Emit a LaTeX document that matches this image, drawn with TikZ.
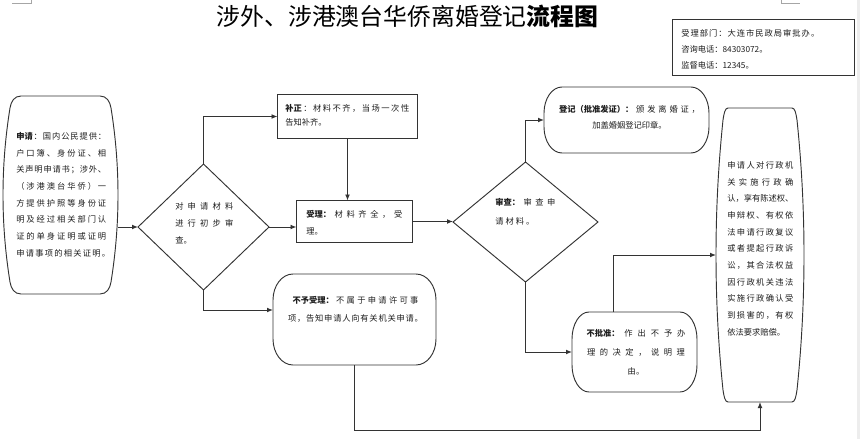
\documentclass[tikz,border=0pt]{standalone}
\usepackage{fontspec}
\setmainfont{Noto Sans CJK SC}
\usetikzlibrary{arrows.meta,shapes.geometric,calc}
\definecolor{lnc}{HTML}{333333}
\definecolor{txc}{HTML}{1E1E1E}
\newdimen\pxu \pxu=0.75pt
\def\jlend{JLEND}
\def\jlloop#1{#1\jlnext}
\def\jlnext#1{\ifx#1\jlend\else\hfil#1\expandafter\jlnext\fi}
\newcommand\jl[2]{\makebox[#1\pxu][s]{\jlloop#2\jlend}}
\newcommand\jlb[3]{\makebox[#1\pxu][s]{\textbf{#2}\jlnext#3\jlend}}
\newcommand\fs[1]{\fontsize{6.2}{#1}\selectfont}
% elliptical-corner rounded rectangle: x1 y1 x2 y2 rx ry
\newcommand\erect[6]{%
 \draw[shp] ({#1+#5},#2) -- ({#3-#5},#2)
  .. controls ({#3-#5+0.552*#5},#2) and (#3,{#2+#6-0.552*#6}) .. (#3,{#2+#6})
  -- (#3,{#4-#6})
  .. controls (#3,{#4-#6+0.552*#6}) and ({#3-#5+0.552*#5},#4) .. ({#3-#5},#4)
  -- ({#1+#5},#4)
  .. controls ({#1+#5-0.552*#5},#4) and (#1,{#4-#6+0.552*#6}) .. (#1,{#4-#6})
  -- (#1,{#2+#6})
  .. controls (#1,{#2+#6-0.552*#6}) and ({#1+#5-0.552*#5},#2) .. ({#1+#5},#2) -- cycle;}
% bulging-side box: x1 y1 x2 y2 a e d
\newcommand\bulge[7]{%
 \draw[shp] ({#1+#5},#2) -- ({#3-#5},#2)
  .. controls ({#3-#5+0.6*(#5-#6)},#2) and ({#3-#6-1},{#2+0.45*#7}) .. ({#3-#6},{#2+#7})
  .. controls ({#3+#6/3},{#2+#7+(#4-#2-2*#7)/3}) and ({#3+#6/3},{#4-#7-(#4-#2-2*#7)/3}) .. ({#3-#6},{#4-#7})
  .. controls ({#3-#6-1},{#4-0.45*#7}) and ({#3-#5+0.6*(#5-#6)},#4) .. ({#3-#5},#4)
  -- ({#1+#5},#4)
  .. controls ({#1+#5-0.6*(#5-#6)},#4) and ({#1+#6+1},{#4-0.45*#7}) .. ({#1+#6},{#4-#7})
  .. controls ({#1-#6/3},{#4-#7-(#4-#2-2*#7)/3}) and ({#1-#6/3},{#2+#7+(#4-#2-2*#7)/3}) .. ({#1+#6},{#2+#7})
  .. controls ({#1+#6+1},{#2+0.45*#7}) and ({#1+#5-0.6*(#5-#6)},#2) .. ({#1+#5},#2) -- cycle;}
\begin{document}
\begin{tikzpicture}[x=0.75pt,y=-0.75pt,
  shp/.style={draw=lnc,line width=0.7pt},
  box/.style={draw=lnc,line width=0.7pt,inner sep=0,outer sep=0},
  anc/.style={inner sep=0,outer sep=0,draw=none},
  dia/.style={diamond,draw=lnc,line width=0.7pt,inner sep=0,outer sep=0},
  arr/.style={draw=lnc,line width=0.7pt,-{Latex[length=4.5pt,width=3.6pt]}},
  txt/.style={inner sep=0,align=left,anchor=base west,text=txc},
  txtc/.style={inner sep=0,align=center,anchor=base,text=txc}]
\useasboundingbox (0,0) rectangle (860,439);
\fill[white] (0,0) rectangle (860,439);
\fill[black!7] (857,0) rectangle (860,439);
\draw[black!35,line width=0.5pt] (12,3) -- (31,3) -- (31,0);
\draw[black!35,line width=0.5pt] (781,0) -- (781,3) -- (800,3);

% title
\node[inner sep=0,anchor=base,text=black,font=\fontsize{17.9}{20}\selectfont] (title) at (407.5,25)
  {涉外、涉港澳台华侨离婚登记\textbf{流程图}};

% info box
\node[box,minimum width={182*0.75pt},minimum height={56*0.75pt}] (info) at (763.5,47.5) {};
\node[txt,font=\fs{12}] (infot) at (681,68)
  {\jl{138}{受理部门：大连市民政局审批办。}\\ 咨询电话：84303072。\\ 监督电话：12345。};

% shapes
\node[anc,minimum width={115*0.75pt},minimum height={198*0.75pt}] (apply) at (60.5,195) {};
\bulge{3}{96}{118}{294}{18}{7}{12}
\node[dia,minimum width={131*0.75pt},minimum height={126*0.75pt}] (d1) at (203.5,227) {};
\node[box,minimum width={140*0.75pt},minimum height={44*0.75pt}] (buzheng) at (347.5,116.5) {};
\node[box,minimum width={116*0.75pt},minimum height={42*0.75pt}] (shouli) at (354.5,221.5) {};
\node[dia,minimum width={145*0.75pt},minimum height={120*0.75pt}] (d2) at (525.5,222) {};
\node[anc,minimum width={165*0.75pt},minimum height={66*0.75pt}] (dengji) at (626.5,120) {};
\erect{544}{87}{709}{153}{18}{26}
\node[anc,minimum width={163*0.75pt},minimum height={91*0.75pt}] (buyu) at (354.5,319.5) {};
\erect{273}{274}{436}{365}{20}{26}
\node[anc,minimum width={125*0.75pt},minimum height={80*0.75pt}] (bpz) at (634.5,352) {};
\erect{572}{312}{697}{392}{17}{27}
\node[anc,minimum width={88*0.75pt},minimum height={294*0.75pt}] (rn) at (760,255) {};
\bulge{716}{108}{804}{402}{12}{7}{12}

% texts (anchor = baseline of the last line)
\node[txt,font=\fs{12.5}] (applyt) at (16,256)
  {\jlb{90}{申请}{：国内公民提供：}\\
   \jl{90}{户口簿、身份证、相}\\
   \jl{90}{关声明申请书；涉外、}\\
   \jl{90}{（涉港澳台华侨）一}\\
   \jl{90}{方提供护照等身份证}\\
   \jl{90}{明及经过相关部门认}\\
   \jl{90}{证的单身证明或证明}\\
   \jl{94}{申请事项的相关证明。}};
\node[txt,font=\fs{12.4}] (d1t) at (175,243)
  {\jl{58}{对申请材料}\\ \jl{58}{进行初步审}\\ 查。};
\node[txt,font=\fs{10.5}] (buzhengt) at (285,125)
  {\jlb{124}{补正}{：材料不齐，当场一次性}\\ 告知补齐。};
\node[txt,font=\fs{12.75}] (shoulit) at (306,234)
  {\jlb{96}{受理：}{材料齐全，受}\\ 理。};
\node[txt,font=\fs{14.25}] (d2t) at (495,224)
  {\jlb{60}{审查：}{审查申}\\ \jl{39}{请材料。}};
\node[txtc,font=\fs{12}] (dengjit) at (629.5,128)
  {\jlb{141}{登记（批准发证）：}{颁发离婚证，}\\ 加盖婚姻登记印章。};
\node[txtc,font=\fs{13.5}] (buyut) at (355.5,321)
  {\jlb{126}{不予受理：}{不属于申请许可事}\\ \jl{135}{项，告知申请人向有关机关申请。}};
\node[txtc,font=\fs{13.9}] (bpzt) at (636,374)
  {\jlb{99}{不批准：}{作出不予办}\\ \jl{98}{理的决定，说明理}\\ 由。};
\node[txt,font=\fs{12.5}] (rnt) at (727,335)
  {\jl{66}{申请人对行政机}\\
   \jl{66}{关实施行政确}\\
   \jl{66}{认，享有陈述权、}\\
   \jl{66}{申辩权、有权依}\\
   \jl{66}{法申请行政复议}\\
   \jl{66}{或者提起行政诉}\\
   \jl{66}{讼，其合法权益}\\
   \jl{66}{因行政机关违法}\\
   \jl{66}{实施行政确认受}\\
   \jl{66}{到损害的，有权}\\
   依法要求赔偿。};

% connectors
\draw[arr] (d1.west -| apply.east) -- (d1.west);
\draw[arr] (d1.north) |- (buzheng.west);
\draw[arr] (buzheng.south) -- (buzheng.south |- shouli.north);
\draw[arr] (d1.east) -- (d1.east -| shouli.west);
\draw[arr] (shouli.east) -- (shouli.east -| d2.west);
\draw[arr] (d1.south) |- ($(buyu.west)+(0,-9.5)$);
\draw[arr] (d2.north) |- (dengji.west);
\draw[arr] (d2.south) |- (bpz.west);
\draw[arr] ($(bpz.north)+(-21.5,0)$) |- (rn.west);
\draw[arr] (buyu.south) -- ++(0,65) -| (rn.south);
\end{tikzpicture}
\end{document}
